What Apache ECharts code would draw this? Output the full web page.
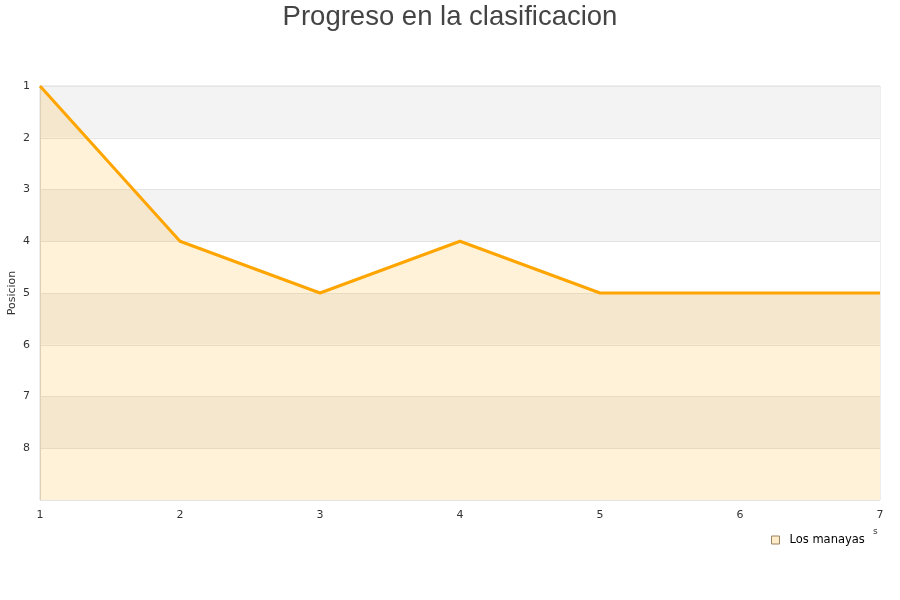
<!DOCTYPE html>
<html>
<head>
<meta charset="utf-8">
<script src="https://cdn.jsdelivr.net/npm/echarts@6/dist/echarts.min.js"></script>
<style>html,body{margin:0;padding:0;background:#fff}#c{width:900px;height:600px}</style>
</head>
<body>
<div id="c"></div>
<script>
const jornadas = [1, 2, 3, 4, 5, 6, 7];
const posiciones = [1, 4, 5, 4, 5, 5, 5];
const seriesName = 'Los manayas';
const titleText = 'Progreso en la clasificacion';

const chart = echarts.init(document.getElementById('c'));
chart.setOption({
  animation: false,
  backgroundColor: '#fff',
  title: {
    text: titleText,
    left: 'center',
    top: -2,
    textStyle: { fontFamily: 'Liberation Sans', fontSize: 27.5, fontWeight: 'normal', color: '#444' }
  },
  legend: {
    data: [{ name: seriesName, icon: 'rect', itemStyle: { color: '#FFECC9', borderColor: '#9a8466', borderWidth: 1 } }],
    left: 766,
    top: 529,
    itemWidth: 8,
    itemHeight: 8,
    itemGap: 8,
    textStyle: { fontFamily: 'DejaVu Sans', fontSize: 11.5, color: '#000', padding: [0, 0, 0, 5] }
  },
  grid: {
    left: 40, right: 20, top: 86, bottom: 100,
    containLabel: false,
    outerBoundsMode: 'none',
    show: true, borderColor: '#dcdcdc', borderWidth: 1, backgroundColor: 'transparent'
  },
  xAxis: {
    type: 'value',
    min: 1, max: 7, interval: 1,
    axisLine: { show: false },
    axisTick: { show: false },
    splitLine: { show: false },
    axisLabel: { fontFamily: 'DejaVu Sans', fontSize: 11, color: '#333', margin: 10 }
  },
  yAxis: {
    type: 'value',
    inverse: true,
    min: 1, max: 9, interval: 1,
    name: 'Posicion',
    nameLocation: 'middle',
    nameGap: 22,
    nameMoveOverlap: false,
    nameTextStyle: { fontFamily: 'DejaVu Sans', fontSize: 11, color: '#333' },
    axisLine: { show: true, lineStyle: { color: '#d8d8d8' } },
    axisTick: { show: false },
    splitLine: { show: true, lineStyle: { color: '#e4e4e4' } },
    splitArea: { show: true, areaStyle: { color: ['#f3f3f3', '#ffffff'] } },
    axisLabel: {
      fontFamily: 'DejaVu Sans', fontSize: 11, color: '#333', margin: 10,
      formatter: v => (v === 9 ? '' : String(v))
    }
  },
  graphic: [{
    type: 'text', left: 873, top: 527,
    style: { text: 's', fontFamily: 'DejaVu Sans', fontSize: 9, fill: '#333' }
  }],
  series: [{
    name: seriesName,
    type: 'line',
    data: jornadas.map((j, i) => [j, posiciones[i]]),
    showSymbol: false,
    symbol: 'none',
    lineStyle: { color: '#FFA500', width: 3 },
    itemStyle: { color: '#FFA500' },
    areaStyle: { color: 'rgba(255,165,0,0.21)', origin: 'end' }
  }]
});
</script>
</body>
</html>
